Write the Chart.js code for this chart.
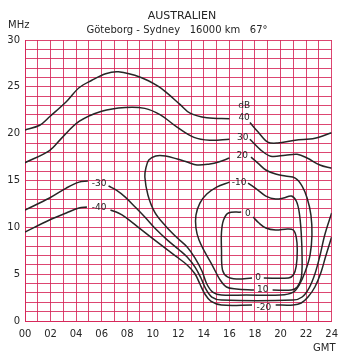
<!DOCTYPE html>
<html>
<head>
<meta charset="utf-8">
<script src="https://cdn.jsdelivr.net/npm/chart.js@4.4.1/dist/chart.umd.min.js"></script>
<style>
  body { margin: 0; background: #fff; }
  canvas { display: block; }
</style>
</head>
<body>
<canvas id="chart" width="345" height="364"></canvas>
<script>
// Göteborg - Sydney field strength contours (dB), hour GMT vs MHz
// null = break in the line (where a label sits)
const hourLabels = ["00", "02", "04", "06", "08", "10", "12", "14", "16", "18", "20", "22", "24"];
const mhzLabels = ["0", "5", "10", "15", "20", "25", "30"];

const db40Hour = [0, 1.15, 1.92, 3.23, 4.23, 5.23, 6.31, 7.31, 9.08, 10.38, 11.15, 12.15, 12.92, 14.23, 16.0, null, 17.6, 18.23, 19.0, 19.77, 21.15, 22.69, 24];
const db40MHz = [20.4, 20.9, 21.8, 23.4, 24.9, 25.7, 26.4, 26.6, 26.0, 25.1, 24.3, 23.1, 22.2, 21.7, 21.6, null, 21.2, 20.2, 19.1, 19.0, 19.3, 19.5, 20.1];

const db30Hour = [0, 1.92, 2.85, 4.23, 6.0, 7.85, 9.38, 10.6, 11.9, 13.23, 14.46, 16.0, null, 17.6, 18.46, 19.23, 20.38, 21.3, 22.08, 23.08, 24];
const db30MHz = [16.9, 18.2, 19.5, 21.3, 22.4, 22.8, 22.7, 22.0, 20.7, 19.6, 19.3, 19.4, null, 19.4, 18.25, 17.6, 17.7, 17.8, 17.4, 16.65, 16.3];

const db20Hour = [17.69, 18.23, 18.85, 19.62, 20.38, 21.15, 21.69, 22.08, 22.38, 22.46, 22.31, 21.92, 21.46, 21.0, 20.0, 17.31, 15.38, 14.69, 14.23, 13.85, 13.31, 12.69, 11.92, 11.0, 10.15, 9.62, 9.38, 9.46, 9.69, 10.23, 11.0, 11.92, 12.69, 13.46, 14.46, 15.15, 16.0];
const db20MHz = [17.5, 16.86, 16.12, 15.69, 15.47, 15.26, 14.41, 13.13, 11.31, 9.18, 7.04, 5.23, 3.84, 3.09, 2.77, 2.77, 2.77, 3.09, 3.95, 5.34, 6.72, 7.9, 8.86, 10.14, 11.63, 13.45, 15.37, 16.33, 17.18, 17.61, 17.61, 17.29, 16.97, 16.65, 16.76, 16.97, 17.4];

const db10Hour = [17.46, 18.23, 18.85, 19.62, 20.23, 20.85, 21.23, 21.46, 21.62, 21.69, 21.62, 21.31, 20.85, 19.38, null, 17.92, 16.54, 15.77, 15.23, 14.69, 14.08, 13.62, 13.38, 13.38, 13.69, 14.23, 15.0, 16.0];
const db10MHz = [14.73, 13.98, 13.34, 13.02, 13.13, 13.34, 12.81, 11.63, 9.39, 6.51, 4.59, 3.63, 3.31, 3.31, null, 3.31, 3.42, 3.63, 4.48, 5.87, 7.36, 8.64, 9.93, 11.31, 12.59, 13.55, 14.3, 14.83];

const db0Hour = [17.85, 18.31, 18.85, 19.62, 20.54, 21.0, 21.23, 21.31, 21.23, 21.0, 20.62, 18.69, null, 17.77, 16.54, 15.85, 15.46, 15.38, 15.38, 15.54, 15.92, 16.92];
const db0MHz = [11.1, 10.46, 9.93, 9.71, 9.82, 9.71, 8.96, 7.58, 5.87, 4.91, 4.59, 4.59, null, 4.59, 4.48, 4.7, 5.44, 7.58, 9.5, 10.78, 11.53, 11.63];

const dbM30Hour = [0, 1.92, 3.23, 4.23, 4.92, null, 6.54, 7.15, 7.85, 8.62, 9.38, 10.23, 11.15, 12.08, 12.69, 13.31, 13.77, 14.15, 14.62, 15.38, 21.0, 21.69, 22.23, 22.69, 23.08, 23.46, 24];
const dbM30MHz = [11.85, 13.13, 14.19, 14.83, 14.94, null, 14.41, 13.98, 13.23, 12.17, 11.1, 9.82, 8.64, 7.58, 6.83, 5.76, 4.59, 3.42, 2.56, 2.24, 2.24, 2.56, 3.52, 5.02, 6.94, 9.18, 11.53];

const dbM40Hour = [0, 1.92, 3.23, 4.23, 4.85, null, 6.69, 7.31, 7.85, 8.85, 9.85, 10.77, 11.69, 12.69, 13.31, 13.69, 14.08, 14.54, 15.38, 17.77, null, 19.62, 21.0, 21.62, 22.15, 22.69, 23.15, 23.54, 24];
const dbM40MHz = [9.5, 10.78, 11.53, 12.06, 12.17, null, 11.85, 11.53, 11.1, 10.03, 8.96, 8.0, 7.04, 5.98, 5.02, 3.95, 2.88, 2.13, 1.71, 1.71, null, 1.71, 1.71, 1.92, 2.56, 3.63, 5.12, 6.94, 8.96];

// text on the contours
const contourText = ["dB", "40", "30", "20", "-10", "0", "0", "10", "-20", "-30", "-40"];
const contourTextHour = [17.15, 17.15, 17.05, 17.0, 16.75, 17.45, 18.25, 18.6, 18.7, 5.8, 5.8];
const contourTextMHz = [22.95, 21.75, 19.6, 17.7, 14.8, 11.45, 4.6, 3.3, 1.4, 14.7, 12.06];

const toPoints = (hours, mhz) => hours.map((h, i) => ({ x: h, y: mhz[i] }));

const curves = [
  ["40 dB", db40Hour, db40MHz],
  ["30 dB", db30Hour, db30MHz],
  ["20 dB", db20Hour, db20MHz],
  ["10 dB", db10Hour, db10MHz],
  ["0 dB", db0Hour, db0MHz],
  ["-30 dB", dbM30Hour, dbM30MHz],
  ["-40 dB", dbM40Hour, dbM40MHz],
];

const gridRed = "rgba(214, 38, 88, 0.85)";
const ink = "#262626";

const annotate = {
  id: "annotate",
  afterDraw(chart) {
    const { ctx, scales: { x, y } } = chart;
    ctx.save();
    ctx.fillStyle = ink;
    ctx.textAlign = "center";
    ctx.textBaseline = "middle";
    ctx.font = '11px "DejaVu Sans"';
    ctx.fillText("AUSTRALIEN", 182, 16);
    ctx.font = '10px "DejaVu Sans"';
    ctx.fillText("Göteborg - Sydney   16000 km   67°", 177, 30);
    ctx.textAlign = "left";
    ctx.fillText("MHz", 8, 25);
    ctx.fillText("GMT", 313, 348);
    ctx.textAlign = "center";
    ctx.font = '9px "DejaVu Sans"';
    contourText.forEach((t, i) => {
      ctx.fillText(t, x.getPixelForValue(contourTextHour[i]), y.getPixelForValue(contourTextMHz[i]));
    });
    ctx.restore();
  },
};

new Chart(document.getElementById("chart"), {
  type: "scatter",
  data: {
    datasets: curves.map(([label, h, f]) => ({
      label,
      data: toPoints(h, f),
      showLine: true,
      spanGaps: false,
      borderColor: ink,
      borderWidth: 1.5,
      pointRadius: 0,
      tension: 0.35,
      fill: false,
    })),
  },
  options: {
    responsive: false,
    animation: false,
    layout: { padding: { top: 40, right: 8, left: 0, bottom: 0 } },
    plugins: { legend: { display: false }, tooltip: { enabled: false } },
    scales: {
      x: {
        type: "linear",
        min: 0,
        max: 24,
        afterFit: (s) => { s.height = 43; },
        grid: { color: gridRed, lineWidth: 1, drawTicks: false },
        border: { color: gridRed, width: 1 },
        ticks: {
          stepSize: 1,
          autoSkip: false,
          maxRotation: 0,
          padding: 7,
          color: ink,
          font: { family: "DejaVu Sans", size: 10 },
          callback: (v) => (v % 2 === 0 ? hourLabels[v / 2] : ""),
        },
      },
      y: {
        type: "linear",
        min: 0,
        max: 30,
        afterFit: (s) => { s.width = 25; },
        grid: { color: gridRed, lineWidth: 1, drawTicks: false },
        border: { color: gridRed, width: 1 },
        ticks: {
          stepSize: 1,
          autoSkip: false,
          padding: 5,
          color: ink,
          font: { family: "DejaVu Sans", size: 10 },
          callback: (v) => (v % 5 === 0 ? mhzLabels[v / 5] : ""),
        },
      },
    },
  },
  plugins: [annotate],
});
</script>
</body>
</html>
